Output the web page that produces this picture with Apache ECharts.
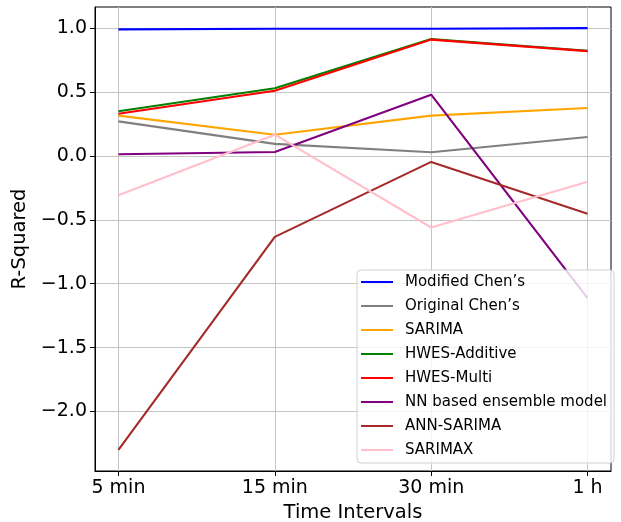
<!DOCTYPE html>
<html>
<head>
<meta charset="utf-8">
<script src="https://cdn.jsdelivr.net/npm/echarts@6/dist/echarts.min.js"></script>
<style>
html,body{margin:0;padding:0;background:#fff;}
#chart{width:621px;height:522px;}
</style>
</head>
<body>
<div id="chart"></div>
<script>
var categories = ['5 min', '15 min', '30 min', '1 h'];
var yTicks = [-2.0, -1.5, -1.0, -0.5, 0.0, 0.5, 1.0];

var modifiedChen = [0.99, 0.995, 0.995, 1.0];
var originalChen = [0.27, 0.094, 0.029, 0.148];
var sarima = [0.315, 0.166, 0.315, 0.375];
var hwesAdditive = [0.35, 0.53, 0.914, 0.823];
var hwesMulti = [0.33, 0.51, 0.91, 0.82];
var nnEnsemble = [0.013, 0.031, 0.479, -1.112];
var annSarima = [-2.3, -0.633, -0.047, -0.453];
var sarimax = [-0.307, 0.166, -0.56, -0.203];

var seriesDefs = [
  {name: 'Modified Chen\u2019s', data: modifiedChen, color: '#0000ff'},
  {name: 'Original Chen\u2019s', data: originalChen, color: '#808080'},
  {name: 'SARIMA', data: sarima, color: '#ffa500'},
  {name: 'HWES-Additive', data: hwesAdditive, color: '#008000'},
  {name: 'HWES-Multi', data: hwesMulti, color: '#ff0000'},
  {name: 'NN based ensemble model', data: nnEnsemble, color: '#800080'},
  {name: 'ANN-SARIMA', data: annSarima, color: '#a52a2a'},
  {name: 'SARIMAX', data: sarimax, color: '#ffc0cb'}
];

var xIdx = categories.map(function (c, i) { return i; });

var series = seriesDefs.map(function (s, k) {
  return {
    name: s.name,
    type: 'line',
    data: s.data.map(function (v, i) { return [xIdx[i], v]; }),
    symbol: 'none',
    color: s.color,
    lineStyle: {color: s.color, width: 2.1},
    z: 2 + k * 0.01,
    animation: false
  };
});

var chart = echarts.init(document.getElementById('chart'), null, {renderer: 'canvas'});
chart.setOption({
  animation: false,
  backgroundColor: '#ffffff',
  grid: {
    left: 95, right: 10, top: 7, bottom: 51,
    outerBoundsMode: 'none',
    containLabel: false,
    show: true, borderColor: '#000', borderWidth: 1, backgroundColor: 'transparent'
  },
  xAxis: {
    type: 'value',
    min: -0.15,
    max: 3.15,
    name: 'Time Intervals',
    nameLocation: 'middle',
    nameGap: 31,
    nameTextStyle: {fontFamily: 'DejaVu Sans', fontSize: 19.5, color: '#000'},
    axisLine: {show: true, onZero: false, lineStyle: {color: '#000', width: 1}},
    axisTick: {show: true, customValues: xIdx, length: 5, inside: false, lineStyle: {color: '#000', width: 1}},
    axisLabel: {
      customValues: xIdx,
      margin: 8,
      fontFamily: 'DejaVu Sans', fontSize: 19, color: '#000',
      formatter: function (v) { return categories[Math.round(v)]; }
    },
    splitLine: {show: true, lineStyle: {color: '#c4c4c4', width: 1}}
  },
  yAxis: {
    type: 'value',
    min: -2.465,
    max: 1.165,
    name: 'R-Squared',
    nameLocation: 'middle',
    nameGap: 58,
    nameRotate: 90,
    nameTextStyle: {fontFamily: 'DejaVu Sans', fontSize: 19.5, color: '#000'},
    axisLine: {show: true, onZero: false, lineStyle: {color: '#000', width: 1}},
    axisTick: {show: true, customValues: yTicks, length: 5, inside: false, lineStyle: {color: '#000', width: 1}},
    axisLabel: {
      customValues: yTicks,
      margin: 8,
      fontFamily: 'DejaVu Sans', fontSize: 19, color: '#000',
      formatter: function (v) { return v.toFixed(1).replace('-', '\u2212'); }
    },
    splitLine: {show: true, lineStyle: {color: '#c4c4c4', width: 1}}
  },
  legend: {
    orient: 'vertical',
    left: 357,
    top: 270,
    padding: [4, 7, 5, 4],
    itemGap: 8,
    itemWidth: 32,
    itemHeight: 2,
    icon: 'rect',
    backgroundColor: 'rgba(255,255,255,0.8)',
    borderColor: '#d0d0d0',
    borderWidth: 1,
    borderRadius: 4,
    textStyle: {fontFamily: 'DejaVu Sans', fontSize: 15, color: '#000', lineHeight: 16, padding: [0, 0, 0, 7]},
    data: seriesDefs.map(function (s) { return s.name; })
  },
  series: series
});
</script>
</body>
</html>
